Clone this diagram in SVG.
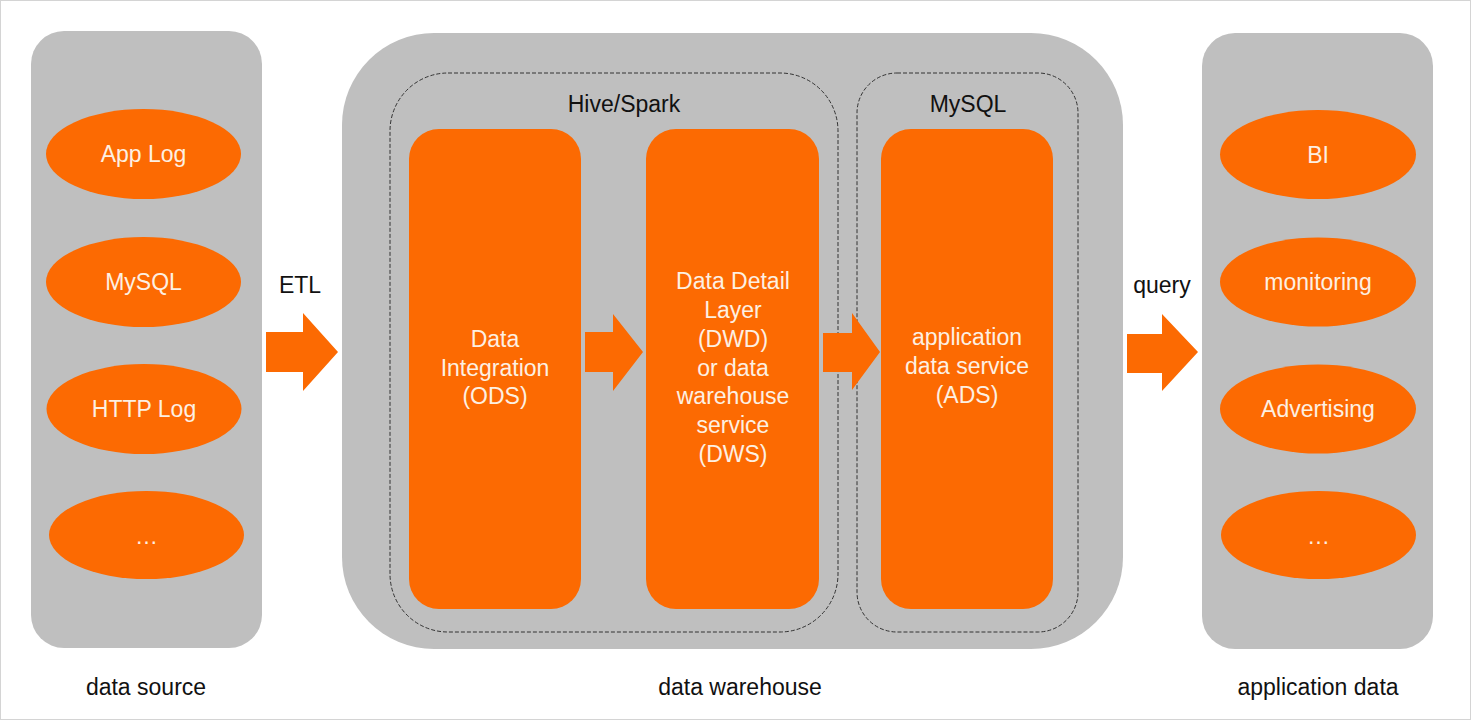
<svg xmlns="http://www.w3.org/2000/svg" width="1472" height="720" viewBox="0 0 1472 720">
<style>
.panel{fill:#bfbfbf}
.org{fill:#fc6a02}
.dash{fill:none;stroke:#333333;stroke-width:1;stroke-dasharray:4 2}
.wt{font-family:"Liberation Sans",Arial,sans-serif;font-size:23px;fill:#fdf0e2;text-anchor:middle}
.bt{font-family:"Liberation Sans",Arial,sans-serif;font-size:23px;fill:#111;text-anchor:middle}
.arrow{fill:#fc6a02}
</style>
<rect x="0" y="0" width="1472" height="720" fill="#ffffff"/>
<rect x="0.5" y="0.5" width="1470" height="719" fill="none" stroke="#d4d4d4" stroke-width="1"/>

<g id="data-source">
<rect class="panel" x="31" y="31" width="231" height="617" rx="33"/>
<text class="bt" x="146" y="695">data source</text>
</g>
<g id="app-log"><ellipse class="org" cx="143.5" cy="154" rx="97.5" ry="45"/><text class="wt" x="143.5" y="162">App Log</text></g>
<g id="mysql-src"><ellipse class="org" cx="143.5" cy="282" rx="97.5" ry="45"/><text class="wt" x="143.5" y="290">MySQL</text></g>
<g id="http-log"><ellipse class="org" cx="144" cy="409" rx="97.5" ry="45"/><text class="wt" x="144" y="417">HTTP Log</text></g>
<g id="src-more"><ellipse class="org" cx="146.5" cy="535" rx="97.5" ry="44"/><text class="wt" x="146.5" y="544">…</text></g>

<g id="data-warehouse">
<rect class="panel" x="342" y="33" width="781" height="616" rx="92"/>
<text class="bt" x="740" y="695">data warehouse</text>
</g>
<g id="hive-spark">
<rect class="dash" x="390" y="73" width="448" height="559" rx="58"/>
<text class="bt" x="624" y="112">Hive/Spark</text>
</g>
<g id="mysql-group">
<rect class="dash" x="857" y="73" width="221" height="559" rx="40"/>
<text class="bt" x="968" y="112">MySQL</text>
</g>
<g id="ods">
<rect class="org" x="409" y="129" width="172" height="480" rx="30"/>
<text class="wt" x="495" y="347">Data</text>
<text class="wt" x="495" y="376">Integration</text>
<text class="wt" x="495" y="404">(ODS)</text>
</g>
<g id="dwd">
<rect class="org" x="646" y="129" width="173" height="480" rx="30"/>
<text class="wt" x="733" y="289">Data Detail</text>
<text class="wt" x="733" y="318">Layer</text>
<text class="wt" x="733" y="347">(DWD)</text>
<text class="wt" x="733" y="376">or data</text>
<text class="wt" x="733" y="404">warehouse</text>
<text class="wt" x="733" y="433">service</text>
<text class="wt" x="733" y="462">(DWS)</text>
</g>
<g id="ads">
<rect class="org" x="881" y="129" width="172" height="480" rx="30"/>
<text class="wt" x="967" y="345">application</text>
<text class="wt" x="967" y="374">data service</text>
<text class="wt" x="967" y="403">(ADS)</text>
</g>

<g id="application-data">
<rect class="panel" x="1202" y="33" width="231" height="616" rx="33"/>
<text class="bt" x="1318" y="695">application data</text>
</g>
<g id="bi"><ellipse class="org" cx="1318" cy="154.5" rx="98" ry="44.5"/><text class="wt" x="1318" y="163">BI</text></g>
<g id="monitoring"><ellipse class="org" cx="1318" cy="282" rx="98" ry="44.5"/><text class="wt" x="1318" y="290">monitoring</text></g>
<g id="advertising"><ellipse class="org" cx="1318" cy="409" rx="98" ry="44.5"/><text class="wt" x="1318" y="417">Advertising</text></g>
<g id="app-more"><ellipse class="org" cx="1318.5" cy="535" rx="97.5" ry="44"/><text class="wt" x="1318.5" y="544">…</text></g>

<g id="connectors">
<text class="bt" x="300" y="293">ETL</text>
<polygon class="arrow" points="266,332 303,332 303,313 338,352 303,391 303,372 266,372"/>
<polygon class="arrow" points="585,332 613,332 613,314 643,352 613,391 613,372 585,372"/>
<polygon class="arrow" points="823,333 852,333 852,313 880,352 852,390 852,372 823,372"/>
<text class="bt" x="1162" y="293">query</text>
<polygon class="arrow" points="1127,334 1162,334 1162,314 1198,352 1162,391 1162,373 1127,373"/>
</g>
</svg>
